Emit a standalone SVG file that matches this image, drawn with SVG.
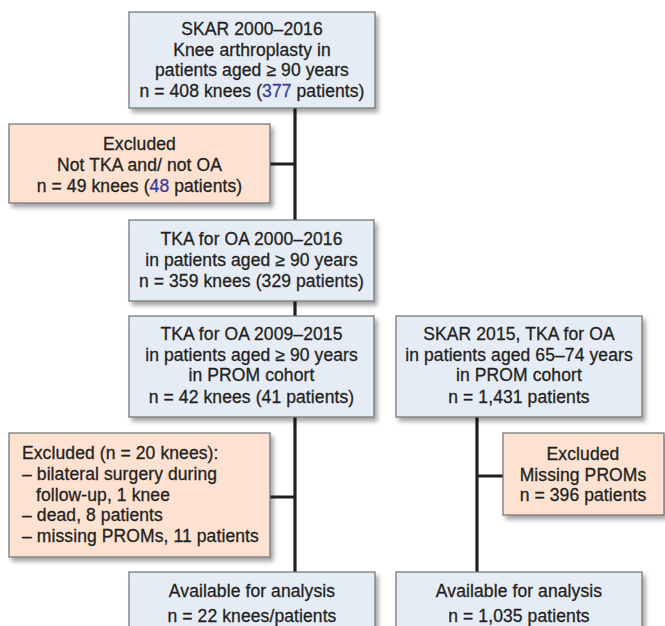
<svg xmlns="http://www.w3.org/2000/svg" width="665" height="626" viewBox="0 0 665 626">
<defs>
<filter id="sh" x="-10%" y="-10%" width="130%" height="140%">
<feDropShadow dx="3" dy="4" stdDeviation="2.2" flood-color="#000" flood-opacity="0.35"/>
</filter>
<style>
.b{fill:#e6ecf6;stroke:#6d6e71;stroke-width:1.2;filter:url(#sh)}
.o{fill:#fde2d2;stroke:#6d6e71;stroke-width:1.2;filter:url(#sh)}
text{font-family:"Liberation Sans",Arial,sans-serif;font-size:17.5px;fill:#231f20;stroke:#231f20;stroke-width:0.3;letter-spacing:0.1px}
.c{text-anchor:middle}
.n{fill:#3a3d9c;stroke:#3a3d9c}
.ln{stroke:#231f20;stroke-width:3.2;fill:none}
</style>
</defs>
<rect width="665" height="626" fill="#fff"/>
<g id="connectors">
<path class="ln" d="M295 108V220M295 301V316M295 417V572M270 164H295M270 497H295M477 417V572M477 476H503"/>
</g>
<g id="n1">
<rect class="b" x="129" y="12" width="246" height="96"/>
<text class="c" x="252" y="35">SKAR 2000–2016</text>
<text class="c" x="252" y="55.5">Knee arthroplasty in</text>
<text class="c" x="252" y="76">patients aged ≥ 90 years</text>
<text class="c" x="252" y="97">n = 408 knees (<tspan class="n">377</tspan> patients)</text>
</g>
<g id="ex1">
<rect class="o" x="9" y="124" width="261" height="79"/>
<text class="c" x="139.5" y="150">Excluded</text>
<text class="c" x="139.5" y="171">Not TKA and/ not OA</text>
<text class="c" x="139.5" y="192">n = 49 knees (<tspan class="n">48</tspan> patients)</text>
</g>
<g id="n2">
<rect class="b" x="129" y="220" width="245" height="81"/>
<text class="c" x="251.5" y="245">TKA for OA 2000–2016</text>
<text class="c" x="251.5" y="266">in patients aged ≥ 90 years</text>
<text class="c" x="251.5" y="287">n = 359 knees (329 patients)</text>
</g>
<g id="n3">
<rect class="b" x="129" y="316" width="245" height="101"/>
<text class="c" x="251.5" y="340">TKA for OA 2009–2015</text>
<text class="c" x="251.5" y="361">in patients aged ≥ 90 years</text>
<text class="c" x="251.5" y="381">in PROM cohort</text>
<text class="c" x="251.5" y="403">n = 42 knees (41 patients)</text>
</g>
<g id="n4">
<rect class="b" x="396" y="316" width="246" height="101"/>
<text class="c" x="519" y="340">SKAR 2015, TKA for OA</text>
<text class="c" x="519" y="361">in patients aged 65–74 years</text>
<text class="c" x="519" y="381">in PROM cohort</text>
<text class="c" x="519" y="403">n = 1,431 patients</text>
</g>
<g id="ex2">
<rect class="o" x="9" y="433" width="261" height="124"/>
<text x="22" y="459">Excluded (n = 20 knees):</text>
<text x="22" y="480">– bilateral surgery during</text>
<text x="36" y="501">follow-up, 1 knee</text>
<text x="22" y="521">– dead, 8 patients</text>
<text x="22" y="542">– missing PROMs, 11 patients</text>
</g>
<g id="ex3">
<rect class="o" x="503" y="433" width="161" height="82"/>
<text class="c" x="583" y="460">Excluded</text>
<text class="c" x="583" y="481">Missing PROMs</text>
<text class="c" x="583" y="501">n = 396 patients</text>
</g>
<g id="n5">
<rect class="b" x="129" y="572" width="246" height="70"/>
<text class="c" x="252" y="597">Available for analysis</text>
<text class="c" x="252" y="622">n = 22 knees/patients</text>
</g>
<g id="n6">
<rect class="b" x="396" y="572" width="246" height="70"/>
<text class="c" x="519" y="597">Available for analysis</text>
<text class="c" x="519" y="622">n = 1,035 patients</text>
</g>
</svg>
